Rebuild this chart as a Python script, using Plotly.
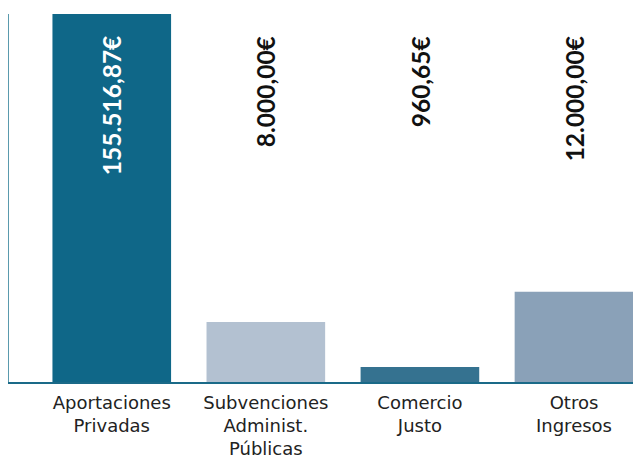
import plotly.graph_objects as go

categories = ["Aportaciones<br>Privadas", "Subvenciones<br>Administ.<br>Públicas", "Comercio<br>Justo", "Otros<br>Ingresos"]
amounts = [155516.87, 8000.00, 960.65, 12000.00]
# bar heights as drawn in the picture (non-proportional display scale, % of tallest bar)
bar_heights = [100, 16.3, 4.1, 24.5]
bar_colors = ["#0f6788", "#b3c1d1", "#357290", "#8aa1b8"]
label_colors = ["#ffffff", "#111111", "#111111", "#111111"]


def fmt_eur(v):
    s = f"{v:,.2f}"
    s = s.replace(",", "X").replace(".", ",").replace("X", ".")
    return s + "€"


fig = go.Figure()
fig.add_trace(go.Bar(
    x=categories,
    y=bar_heights,
    marker=dict(color=bar_colors, line=dict(width=0)),
    width=0.77,
    hoverinfo="skip",
))

for cat, amt, col in zip(categories, amounts, label_colors):
    fig.add_annotation(
        x=cat, y=94.6, xref="x", yref="y",
        text="<b>" + fmt_eur(amt) + "</b>", textangle=-90,
        showarrow=False, xanchor="center", yanchor="top",
        font=dict(family="Lato", size=24.5, color=col),
    )

fig.update_layout(
    width=633, height=451,
    margin=dict(l=1, r=0, t=6, b=77),
    paper_bgcolor="white", plot_bgcolor="white",
    showlegend=False,
    font=dict(family="DejaVu Sans", size=18, color="#222222"),
    xaxis=dict(
        range=[-0.667, 3.435],
        showline=True, linecolor="#1a6a88", linewidth=2,
        showgrid=False, ticks="", ticklabelstandoff=3,
        tickfont=dict(family="DejaVu Sans", size=18, color="#222222"),
        zeroline=False, automargin=False,
    ),
    yaxis=dict(
        range=[0, 100],
        showline=True, linecolor="#5a9aad", linewidth=2,
        showgrid=False, showticklabels=False, ticks="", zeroline=False,
        automargin=False,
    ),
)

fig.write_html("out.html")
